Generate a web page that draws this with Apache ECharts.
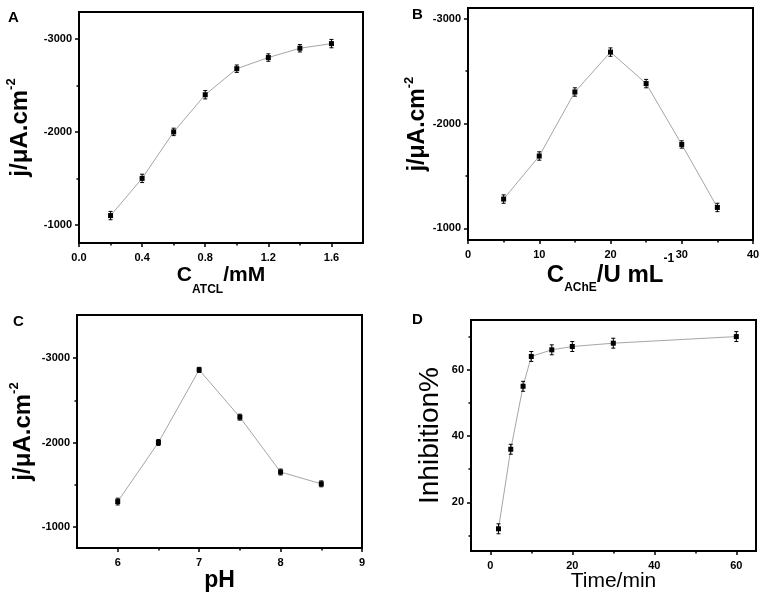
<!DOCTYPE html>
<html>
<head>
<meta charset="utf-8">
<script src="https://cdn.jsdelivr.net/npm/echarts@6/dist/echarts.min.js"></script>
<style>
  html, body { margin: 0; background: #fff; }
  #chart { width: 765px; height: 598px; }
</style>
</head>
<body>
<div id="chart"></div>
<script>
// A: current density vs ATCL concentration
const atclConc = [0.2, 0.4, 0.6, 0.8, 1.0, 1.2, 1.4, 1.6];
const atclJ = [-1100, -1500, -2000, -2400, -2680, -2800, -2900, -2950];
const atclErr = [45, 45, 40, 45, 40, 40, 40, 45];

// B: current density vs AChE loading
const acheConc = [5, 10, 15, 20, 25, 30, 35];
const acheJ = [-1280, -1690, -2300, -2680, -2380, -1800, -1200];
const acheErr = [40, 40, 40, 40, 40, 35, 40];

// C: current density vs pH
const phValues = [6, 6.5, 7, 7.5, 8, 8.5];
const phJ = [-1300, -2000, -2860, -2300, -1650, -1510];
const phErr = [40, 35, 30, 35, 35, 35];

// D: inhibition vs incubation time
const timeMin = [2, 5, 8, 10, 15, 20, 30, 60];
const inhibition = [12, 36, 55, 64, 66, 67, 68, 70];
const inhibitionErr = [1.5, 1.5, 1.5, 1.5, 1.5, 1.5, 1.5, 1.5];

// tick labels
const ticksAx = [0, 0.4, 0.8, 1.2, 1.6];
const minorAx = [0.2, 0.6, 1.0, 1.4];
const ticksBx = [0, 10, 20, 30, 40];
const minorBx = [5, 15, 25, 35];
const ticksCx = [6, 7, 8, 9];
const minorCx = [6.5, 7.5, 8.5];
const ticksDx = [0, 20, 40, 60];
const minorDx = [10, 30, 50];
const ticksJ = [-3000, -2000, -1000];
const minorJ = [-2500, -1500];
const ticksDy = [20, 40, 60];
const minorDy = [10, 30, 50, 70];

const FONT = "'Liberation Sans', Arial, sans-serif";

// rich styles: every token top-aligned, padding-top sets its vertical offset
function richX(main, small, padMain, padSub) {
  const base = { fontFamily: FONT, fontWeight: "bold", color: "#000", verticalAlign: "top" };
  return {
    b: { ...base, fontSize: main, lineHeight: 24, padding: [padMain, 0, 0, 0] },
    sub: { ...base, fontSize: small, lineHeight: 13, padding: [padSub, 0, 0, 0] },
    sup: { ...base, fontSize: small, lineHeight: 13, padding: [0, 0, 0, 0] }
  };
}

function richY(main) {
  const base = { fontFamily: FONT, fontWeight: "bold", color: "#000", verticalAlign: "top" };
  return {
    b: { ...base, fontSize: main, lineHeight: 26, padding: [3, 0, 0, 0] },
    sup: { ...base, fontSize: 13, lineHeight: 13, padding: [0, 0, 0, 0] }
  };
}

function errorBar(params, api) {
  const x = api.value(0), y = api.value(1), e = api.value(2);
  const hi = api.coord([x, y + e]);
  const lo = api.coord([x, y - e]);
  const cap = 2;
  const style = { stroke: "#000", lineWidth: 1 };
  return {
    type: "group",
    children: [
      { type: "line", shape: { x1: hi[0], y1: hi[1], x2: lo[0], y2: lo[1] }, style },
      { type: "line", shape: { x1: hi[0] - cap, y1: hi[1], x2: hi[0] + cap, y2: hi[1] }, style },
      { type: "line", shape: { x1: lo[0] - cap, y1: lo[1], x2: lo[0] + cap, y2: lo[1] }, style }
    ]
  };
}

function mainAxis(gi, a, pos) {
  return {
    type: "value", gridIndex: gi, position: pos,
    min: a.min, max: a.max, inverse: !!a.inverse,
    name: a.name, nameLocation: "middle", nameGap: a.gap, nameMoveOverlap: false,
    nameTextStyle: { fontFamily: FONT, color: "#000", fontSize: a.nameSize || 22, fontWeight: a.nameWeight || "bold", lineHeight: a.nameLH, rich: a.rich },
    axisLine: { show: true, onZero: false, lineStyle: { color: "#000", width: 2 } },
    axisTick: { show: true, inside: false, length: 4, customValues: a.ticks, lineStyle: { color: "#000", width: 1.5 } },
    axisLabel: {
      show: true, customValues: a.ticks, margin: a.margin, hideOverlap: false,
      fontFamily: FONT, fontSize: 11, fontWeight: "bold", color: "#000",
      formatter: a.fmt || ((v) => String(v))
    },
    splitLine: { show: false }
  };
}

function minorAxis(gi, a, pos) {
  return {
    type: "value", gridIndex: gi, position: pos,
    min: a.min, max: a.max, inverse: !!a.inverse,
    axisLine: { show: false, onZero: false },
    axisTick: { show: true, inside: false, length: 2.5, customValues: a.minor, lineStyle: { color: "#000", width: 1.5 } },
    axisLabel: { show: false },
    splitLine: { show: false }
  };
}

const option = {
  animation: false,
  backgroundColor: "#fff",
  title: [], grid: [], xAxis: [], yAxis: [], series: []
};

function addPanel(p) {
  const gi = option.grid.length;
  option.grid.push({
    left: p.box[0], top: p.box[1], width: p.box[2], height: p.box[3],
    show: true, borderColor: "#000", borderWidth: 2, backgroundColor: "transparent"
  });
  option.title.push({
    text: p.letter, left: p.letterPos[0], top: p.letterPos[1], padding: 0,
    textStyle: { fontFamily: FONT, fontSize: 15, fontWeight: "bold", color: "#000" }
  });
  const xi = option.xAxis.length, yi = option.yAxis.length;
  option.xAxis.push(mainAxis(gi, p.x, "bottom"), minorAxis(gi, p.x, "bottom"));
  option.yAxis.push(mainAxis(gi, p.y, "left"), minorAxis(gi, p.y, "left"));
  const pts = p.xs.map((x, i) => [x, p.ys[i], p.errs[i]]);
  option.series.push({
    type: "line", xAxisIndex: xi, yAxisIndex: yi,
    data: pts.map((d) => [d[0], d[1]]),
    symbol: "rect", symbolSize: 5,
    lineStyle: { color: "#a6a6a6", width: 1 },
    itemStyle: { color: "#000" }, z: 3
  });
  option.series.push({
    type: "custom", xAxisIndex: xi, yAxisIndex: yi,
    data: pts, encode: { x: 0, y: 1 }, renderItem: errorBar, z: 4
  });
}

addPanel({
  letter: "A", letterPos: [8, 10], box: [79, 12, 284, 231],
  xs: atclConc, ys: atclJ, errs: atclErr,
  x: { min: 0, max: 1.8, ticks: ticksAx, minor: minorAx, fmt: (v) => v.toFixed(1), margin: 9,
       name: "{b|C}{sub|ATCL}{b|/mM}", gap: 15, rich: richX(21, 12, 7, 26) },
  y: { min: -3290, max: -805, inverse: true, ticks: ticksJ, minor: minorJ, margin: 7,
       name: "{b|j/μA.cm}{sup|-2}", gap: 48, rich: richY(24) }
});

addPanel({
  letter: "B", letterPos: [412, 7], box: [468, 8, 285, 232],
  xs: acheConc, ys: acheJ, errs: acheErr,
  x: { min: 0, max: 40, ticks: ticksBx, minor: minorBx, margin: 9,
       name: "{b|C}{sub|AChE}{b|/U mL}{sup|-1}", gap: 13, rich: richX(24, 12, 10, 29) },
  y: { min: -3100, max: -890, inverse: true, ticks: ticksJ, minor: minorJ, margin: 7,
       name: "{b|j/μA.cm}{sup|-2}", gap: 39, rich: richY(23) }
});

addPanel({
  letter: "C", letterPos: [13, 314], box: [77, 315, 285, 233],
  xs: phValues, ys: phJ, errs: phErr,
  x: { min: 5.5, max: 9, ticks: ticksCx, minor: minorCx, margin: 9,
       name: "pH", gap: 21, nameSize: 23, nameLH: 24 },
  y: { min: -3510, max: -750, inverse: true, ticks: ticksJ, minor: minorJ, margin: 7,
       name: "{b|j/μA.cm}{sup|-2}", gap: 43, rich: richY(24) }
});

addPanel({
  letter: "D", letterPos: [412, 312], box: [471, 320, 285, 231],
  xs: timeMin, ys: inhibition, errs: inhibitionErr,
  x: { min: -4.7, max: 64.8, ticks: ticksDx, minor: minorDx, margin: 9,
       name: "Time/min", gap: 18, nameSize: 21, nameWeight: "normal", nameLH: 24 },
  y: { min: 5.3, max: 75, ticks: ticksDy, minor: minorDy, margin: 7,
       name: "Inhibition%", gap: 27, nameSize: 28, nameWeight: "normal", nameLH: 28 }
});

const chart = echarts.init(document.getElementById("chart"));
chart.setOption(option);
window.addEventListener("resize", () => chart.resize());
</script>
</body>
</html>
